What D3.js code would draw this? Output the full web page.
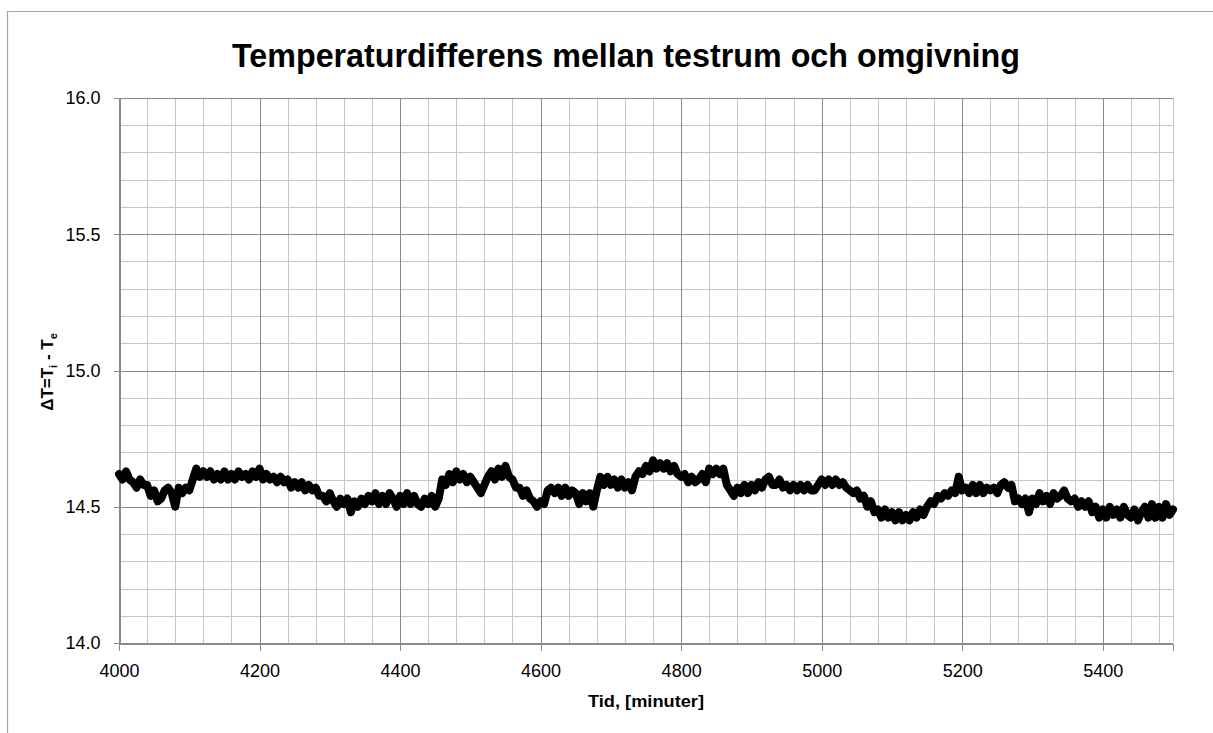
<!DOCTYPE html>
<html>
<head>
<meta charset="utf-8">
<script src="https://cdn.jsdelivr.net/npm/d3@7"></script>
<style>
html, body { margin: 0; background: #fff; overflow: hidden; }
svg { display: block; }
text { font-family: "Liberation Sans", Arial, sans-serif; }
</style>
</head>
<body>
<svg id="chart" width="1213" height="733"></svg>
<script>
// time axis, one reading every 5 minutes
let minutes = d3.range(4000, 5501, 5)
// temperature difference, 8 readings per 40 min grid cell
let deltaT = [
    14.62,14.60,14.63,14.60,14.59,14.57,14.60,14.58,
    14.58,14.54,14.56,14.52,14.53,14.56,14.57,14.55,
    14.50,14.57,14.55,14.57,14.56,14.60,14.64,14.61,
    14.63,14.61,14.63,14.60,14.62,14.60,14.63,14.60,
    14.62,14.60,14.63,14.61,14.62,14.60,14.63,14.61,
    14.64,14.60,14.62,14.60,14.61,14.59,14.61,14.59,
    14.60,14.57,14.59,14.57,14.59,14.56,14.58,14.56,
    14.57,14.54,14.54,14.52,14.55,14.52,14.50,14.53,
    14.51,14.53,14.48,14.52,14.50,14.53,14.51,14.54,
    14.52,14.55,14.51,14.54,14.51,14.55,14.53,14.50,
    14.54,14.51,14.55,14.51,14.54,14.51,14.50,14.53,
    14.51,14.54,14.50,14.53,14.60,14.58,14.62,14.59,
    14.63,14.60,14.62,14.59,14.61,14.59,14.57,14.55,
    14.58,14.61,14.63,14.60,14.64,14.61,14.65,14.61,
    14.60,14.57,14.57,14.54,14.56,14.53,14.52,14.50,
    14.52,14.51,14.56,14.57,14.55,14.57,14.54,14.57,
    14.54,14.56,14.55,14.51,14.55,14.52,14.55,14.50,
    14.56,14.61,14.58,14.61,14.58,14.60,14.57,14.60,
    14.57,14.59,14.56,14.61,14.63,14.62,14.65,14.63,
    14.67,14.64,14.66,14.64,14.66,14.63,14.65,14.62,
    14.61,14.62,14.59,14.61,14.59,14.60,14.62,14.59,
    14.64,14.62,14.64,14.62,14.64,14.58,14.56,14.54,
    14.57,14.55,14.58,14.55,14.58,14.56,14.59,14.57,
    14.60,14.61,14.58,14.58,14.60,14.57,14.58,14.56,
    14.58,14.56,14.58,14.56,14.58,14.56,14.56,14.58,
    14.60,14.58,14.60,14.58,14.60,14.58,14.59,14.57,
    14.56,14.55,14.56,14.53,14.54,14.50,14.52,14.48,
    14.49,14.46,14.49,14.46,14.48,14.45,14.48,14.45,
    14.47,14.45,14.48,14.46,14.49,14.47,14.50,14.52,
    14.51,14.54,14.53,14.55,14.54,14.56,14.55,14.61,
    14.56,14.57,14.55,14.58,14.55,14.58,14.55,14.57,
    14.56,14.57,14.55,14.58,14.59,14.57,14.58,14.52,
    14.53,14.51,14.53,14.48,14.53,14.51,14.55,14.52,
    14.54,14.51,14.55,14.53,14.54,14.56,14.53,14.52,
    14.53,14.50,14.52,14.50,14.52,14.48,14.50,14.46,
    14.49,14.46,14.50,14.47,14.49,14.46,14.50,14.47,
    14.46,14.49,14.45,14.48,14.50,14.46,14.51,14.46,
    14.50,14.46,14.51,14.47,14.49
]
let xTicks = [4000, 4200, 4400, 4600, 4800, 5000, 5200, 5400]
let yTicks = [14.0, 14.5, 15.0, 15.5, 16.0]

let svg = d3.select("#chart")
let plot = { left: 119, right: 1173, top: 98, bottom: 643 }

let x = d3.scaleLinear().domain([4000, 5500]).range([plot.left, plot.right])
let y = d3.scaleLinear().domain([14, 16]).range([plot.bottom, plot.top])

// outer chart border: only the top and left edges are inside the picture
svg.append("path")
    .attr("d", "M7.5,733V11.5H1213")
    .attr("fill", "none").attr("stroke", "#a6a6a6").attr("stroke-width", 1.2)

// title
svg.append("text")
    .attr("x", 626).attr("y", 67)
    .attr("text-anchor", "middle")
    .attr("font-size", 34).attr("font-weight", "bold")
    .attr("textLength", 788).attr("lengthAdjust", "spacingAndGlyphs")
    .text("Temperaturdifferens mellan testrum och omgivning")

// grid: minor every 40 min / 0.1 degree, major every 200 min / 0.5 degree
let grid = svg.append("g").attr("shape-rendering", "crispEdges")
let minorX = d3.range(4000, 5501, 40)
let minorY = d3.range(0, 21).map(i => 14 + i / 10)
grid.selectAll(".vmin").data(minorX).enter().append("line")
    .attr("x1", d => Math.round(x(d)) + 0.5).attr("x2", d => Math.round(x(d)) + 0.5)
    .attr("y1", plot.top).attr("y2", plot.bottom)
    .attr("stroke", "#c6c6c6")
grid.selectAll(".hmin").data(minorY).enter().append("line")
    .attr("x1", plot.left).attr("x2", plot.right)
    .attr("y1", d => Math.round(y(d)) + 0.5).attr("y2", d => Math.round(y(d)) + 0.5)
    .attr("stroke", "#c6c6c6")
// right edge of the plot
grid.append("line")
    .attr("x1", plot.right + 0.5).attr("x2", plot.right + 0.5)
    .attr("y1", plot.top).attr("y2", plot.bottom)
    .attr("stroke", "#c6c6c6")
grid.selectAll(".vmaj").data(xTicks).enter().append("line")
    .attr("x1", d => Math.round(x(d)) + 0.5).attr("x2", d => Math.round(x(d)) + 0.5)
    .attr("y1", plot.top).attr("y2", plot.bottom)
    .attr("stroke", "#8a8a8a")
grid.selectAll(".hmaj").data(yTicks).enter().append("line")
    .attr("x1", plot.left).attr("x2", plot.right)
    .attr("y1", d => Math.round(y(d)) + 0.5).attr("y2", d => Math.round(y(d)) + 0.5)
    .attr("stroke", "#8a8a8a")

// axes
let xAxis = svg.append("g")
    .attr("transform", `translate(0,${Math.round(y(14)) + 0.5})`)
    .call(d3.axisBottom(x).tickValues(xTicks).tickSize(7).tickPadding(14).tickFormat(d3.format("d")))
let yAxis = svg.append("g")
    .attr("transform", `translate(${Math.round(x(4000)) + 0.5},0)`)
    .call(d3.axisLeft(y).tickValues(yTicks).tickSize(6).tickPadding(13).tickFormat(d3.format(".1f")))
for (let ax of [xAxis, yAxis]) {
    ax.attr("font-family", null).attr("font-size", 18)
    ax.select(".domain").attr("stroke", "#8a8a8a").attr("shape-rendering", "crispEdges")
    ax.selectAll(".tick line").attr("stroke", "#8a8a8a").attr("shape-rendering", "crispEdges")
    ax.selectAll(".tick text").attr("fill", "#000")
}

// the series, drawn as a heavy black line
let line = d3.line()
    .x((d, i) => x(minutes[i]))
    .y(d => y(d))
svg.append("path")
    .datum(deltaT)
    .attr("d", line)
    .attr("fill", "none")
    .attr("stroke", "#000")
    .attr("stroke-width", 8)
    .attr("stroke-linejoin", "round")
    .attr("stroke-linecap", "round")

// axis titles
svg.append("text")
    .attr("x", 646).attr("y", 707)
    .attr("text-anchor", "middle")
    .attr("font-size", 17).attr("font-weight", "bold")
    .attr("textLength", 116).attr("lengthAdjust", "spacingAndGlyphs")
    .text("Tid, [minuter]")

let yTitle = svg.append("text")
    .attr("transform", "translate(53,372) rotate(-90)")
    .attr("text-anchor", "middle")
    .attr("font-size", 17).attr("font-weight", "bold")
yTitle.append("tspan").text("ΔT=T")
yTitle.append("tspan").attr("font-size", 11).attr("dy", 4).text("i")
yTitle.append("tspan").attr("dy", -4).text(" - T")
yTitle.append("tspan").attr("font-size", 11).attr("dy", 4).text("e")
</script>
</body>
</html>
